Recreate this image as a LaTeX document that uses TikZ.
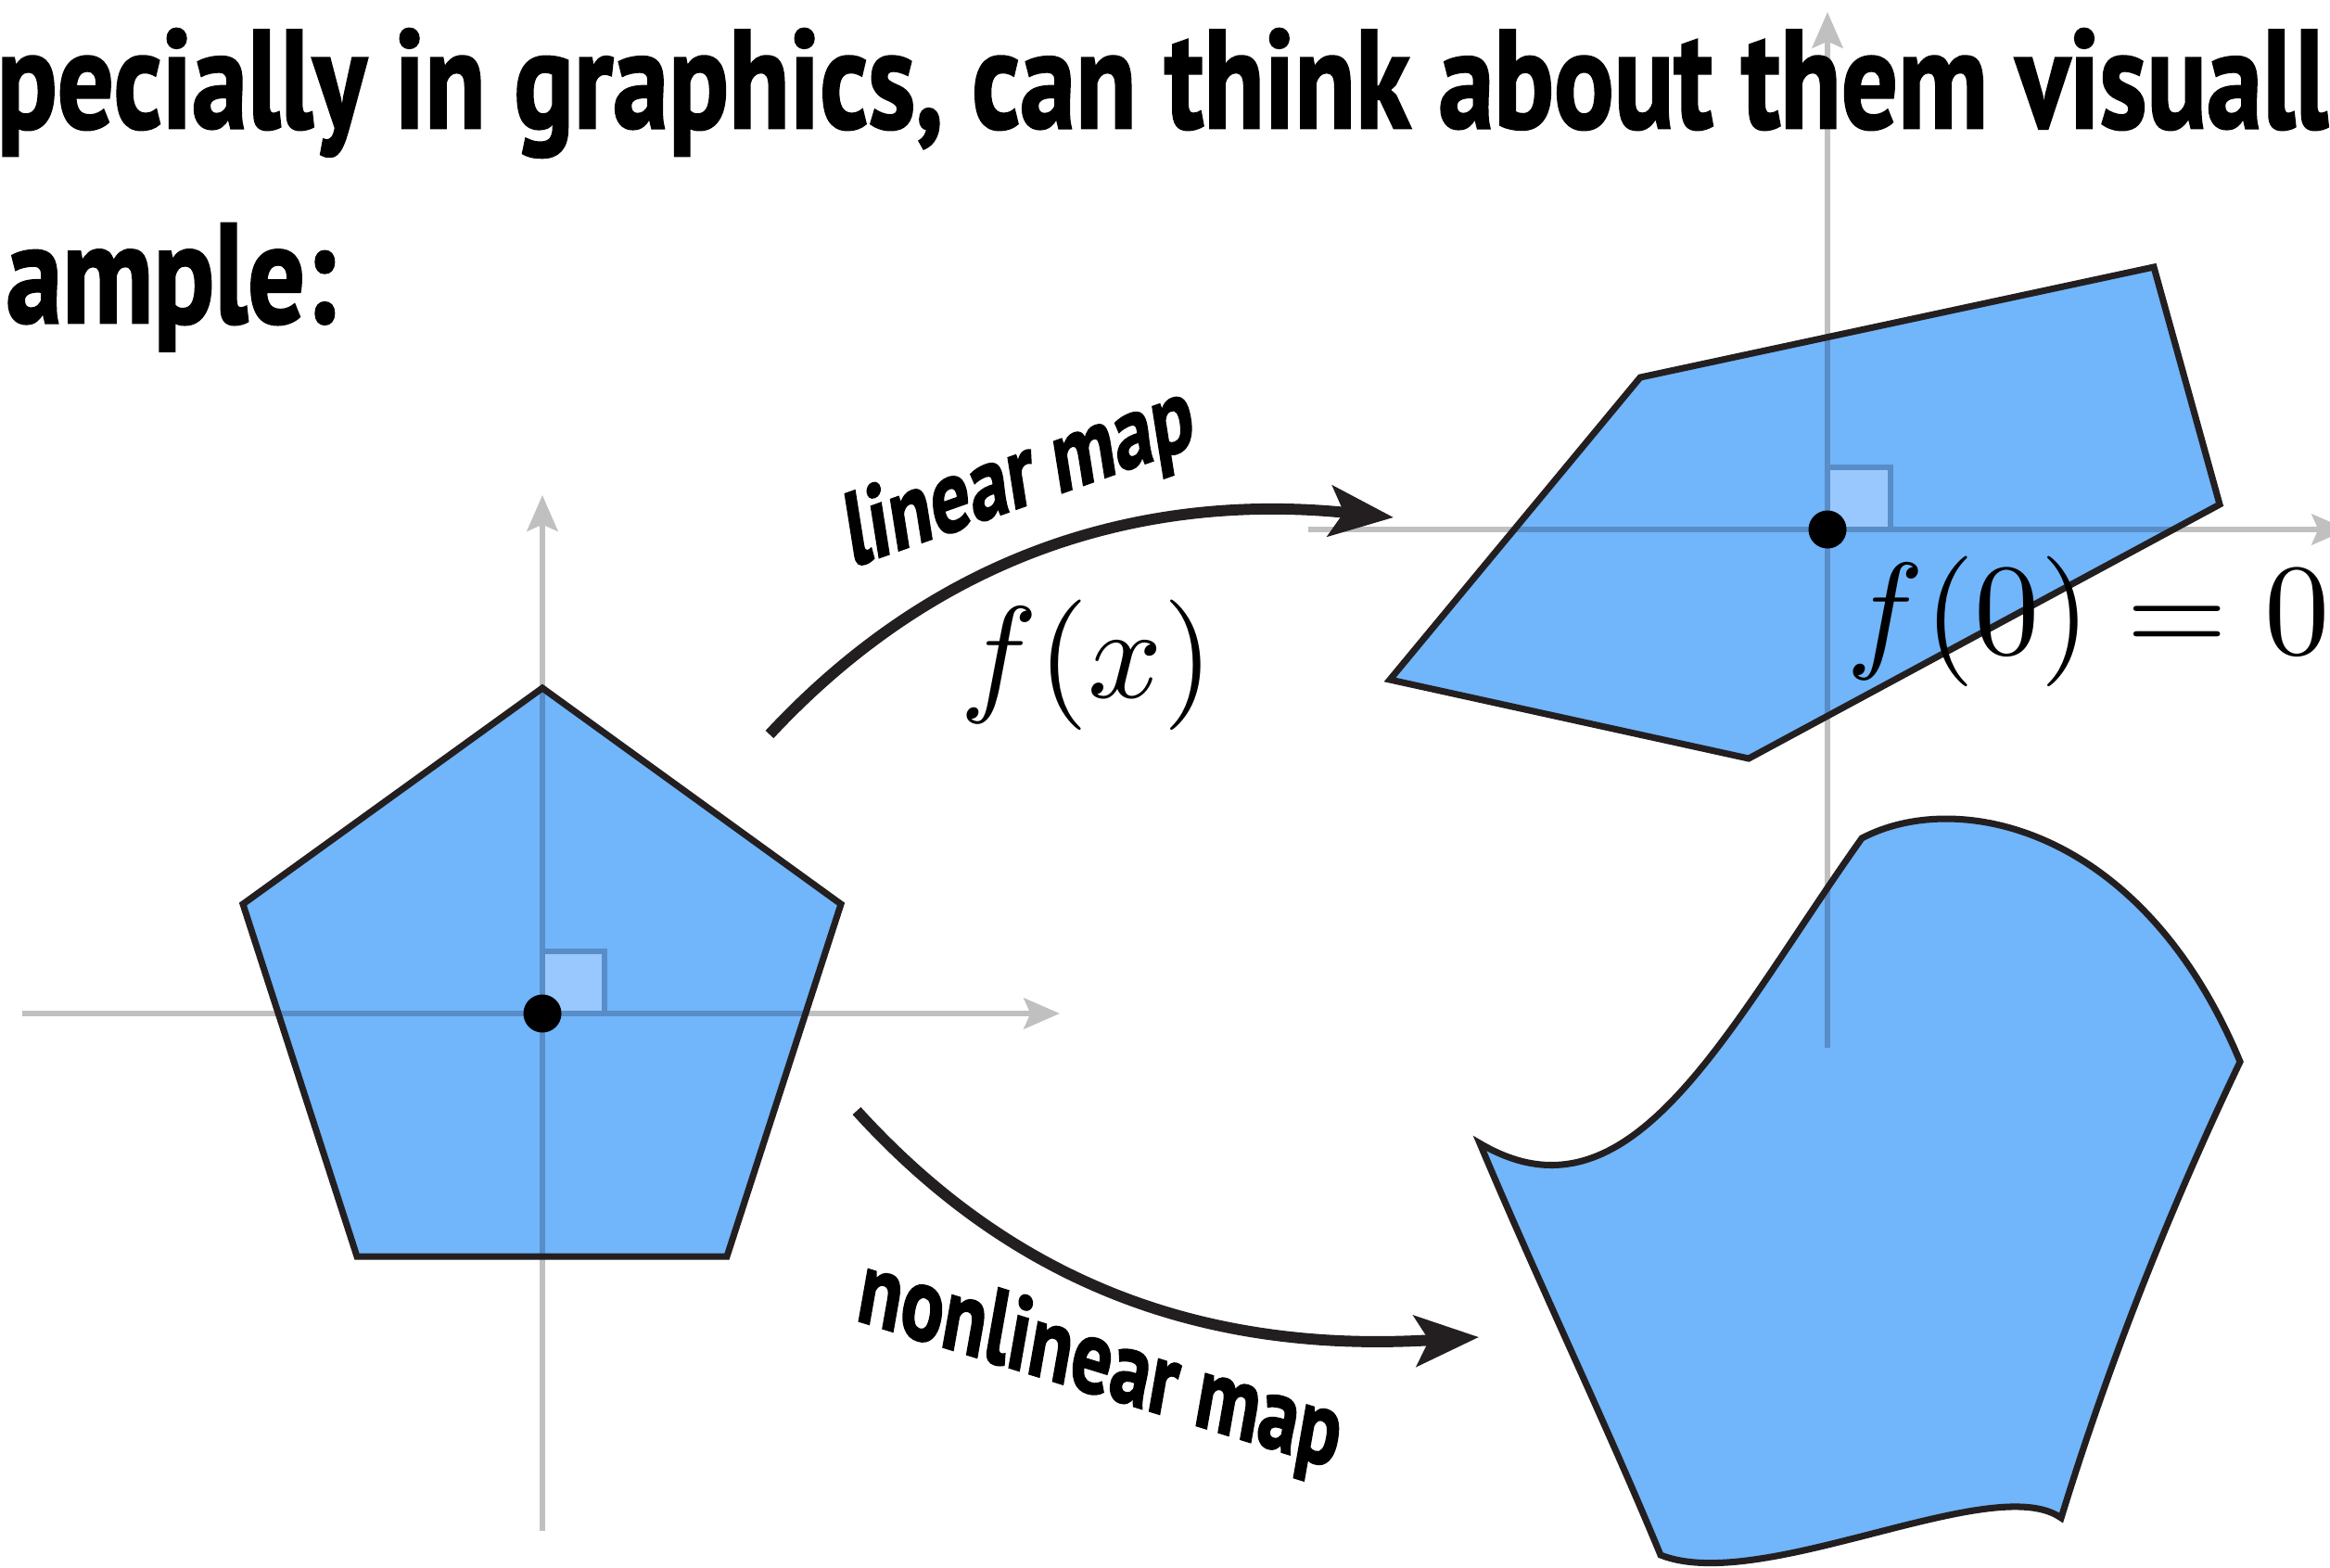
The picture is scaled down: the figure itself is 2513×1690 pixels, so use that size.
\documentclass[tikz,border=0pt]{standalone}
\usepackage{fontspec}
\newfontfamily\titlefont{PT Sans}[BoldFeatures={FakeBold=1.8}]
\usetikzlibrary{arrows.meta}
\definecolor{polyblue}{RGB}{113,181,250}
\definecolor{axisgray}{RGB}{192,192,192}
\definecolor{axisdark}{RGB}{88,141,200}
\definecolor{sqfill}{RGB}{152,200,253}
\definecolor{inkdark}{RGB}{35,31,32}
\begin{document}
\begin{tikzpicture}[x=0.01cm,y=-0.01cm,
  axis/.style={draw=axisgray, line width=1.8pt, -{Stealth[length=11pt,width=9.4pt,inset=2pt]}},
  axisin/.style={draw=axisdark, line width=1.8pt},
  blob/.style={fill=polyblue},
  outline/.style={draw=inkdark, line width=2pt, line join=miter},
  sqbox/.style={fill=sqfill, draw=axisdark, line width=1.5pt},
  mapping/.style={draw=inkdark, line width=3.4pt, -{Stealth[length=19.5pt,width=15.5pt,inset=4.2pt]}},
  dotnode/.style={circle, fill=black, inner sep=0pt, minimum size=0.41cm},
  lbl/.style={inner sep=0pt, anchor=base west},
  mathlbl/.style={inner sep=0pt, anchor=base}]
\useasboundingbox (0,0) rectangle (2513,1690);

% ---------- coordinates ----------
\coordinate (Lo) at (585,1093);
\coordinate (LxA) at (24,1093);  \coordinate (LxB) at (1143,1093);
\coordinate (LyA) at (585,1651); \coordinate (LyB) at (585,534);
\coordinate (P1) at (585,742); \coordinate (P2) at (907,975);
\coordinate (P3) at (784,1355); \coordinate (P4) at (385,1355);
\coordinate (P5) at (262,975);

\coordinate (Ro) at (1971,571);
\coordinate (RxA) at (1411,571);  \coordinate (RxB) at (2532,571);
\coordinate (RyA) at (1971,1130); \coordinate (RyB) at (1971,13);
\coordinate (Q1) at (1769,407); \coordinate (Q2) at (2323,288);
\coordinate (Q3) at (2394,544); \coordinate (Q4) at (1886,818);
\coordinate (Q5) at (1499,733);

\coordinate (NA) at (2008,904); \coordinate (NB) at (2416,1145);
\coordinate (NC) at (2223,1637); \coordinate (ND) at (1791,1677);
\coordinate (NE) at (1596,1233);

% ---------- gray axes ----------
\draw[axis] (LxA) -- (LxB);
\draw[axis] (LyA) -- (LyB);
\draw[axis] (RxA) -- (RxB);
\draw[axis] (RyA) -- (RyB);

% ---------- left pentagon ----------
\fill[blob] (P1) -- (P2) -- (P3) -- (P4) -- (P5) -- cycle;
\begin{scope}
  \clip (P1) -- (P2) -- (P3) -- (P4) -- (P5) -- cycle;
  \draw[axisin] (LxA) -- (LxB);
  \draw[axisin] (LyA) -- (LyB);
\end{scope}
\draw[sqbox] (Lo) rectangle ++(67,-67);
\draw[outline] (P1) -- (P2) -- (P3) -- (P4) -- (P5) -- cycle;
\node[dotnode] (ldot) at (Lo) {};

% ---------- linear image ----------
\fill[blob] (Q1) -- (Q2) -- (Q3) -- (Q4) -- (Q5) -- cycle;
\begin{scope}
  \clip (Q1) -- (Q2) -- (Q3) -- (Q4) -- (Q5) -- cycle;
  \draw[axisin] (RxA) -- (RxB);
  \draw[axisin] (RyA) -- (RyB);
\end{scope}
\draw[sqbox] (Ro) rectangle ++(68,-67);
\draw[outline] (Q1) -- (Q2) -- (Q3) -- (Q4) -- (Q5) -- cycle;
\node[dotnode] (rdot) at (Ro) {};

% ---------- nonlinear image ----------
\fill[blob] (NA) .. controls (2110,850) and (2310,890) .. (NB)
  .. controls (2340,1304) and (2275,1468) .. (NC)
  .. controls (2150,1585) and (1900,1720) .. (ND)
  .. controls (1730,1530) and (1660,1385) .. (NE)
  .. controls (1760,1330) and (1863,1108) .. (NA) -- cycle;
\begin{scope}
  \clip (NA) .. controls (2110,850) and (2310,890) .. (NB)
  .. controls (2340,1304) and (2275,1468) .. (NC)
  .. controls (2150,1585) and (1900,1720) .. (ND)
  .. controls (1730,1530) and (1660,1385) .. (NE)
  .. controls (1760,1330) and (1863,1108) .. (NA) -- cycle;
  \draw[axisin] (RyA) -- (RyB);
\end{scope}
\draw[outline] (NA) .. controls (2110,850) and (2310,890) .. (NB)
  .. controls (2340,1304) and (2275,1468) .. (NC)
  .. controls (2150,1585) and (1900,1720) .. (ND)
  .. controls (1730,1530) and (1660,1385) .. (NE)
  .. controls (1760,1330) and (1863,1108) .. (NA) -- cycle;

% ---------- mapping arrows ----------
\coordinate (la0) at (830,792);  \coordinate (la1) at (1503,558);
\coordinate (na0) at (924,1198); \coordinate (na1) at (1595,1442);
\draw[mapping] (la0) .. controls (1020,588) and (1245,532) .. (la1);
\draw[mapping] (na0) .. controls (1094,1385) and (1300,1460) .. (na1);

% ---------- labels ----------
\node[lbl, rotate=19.5, xslant=0.185] (linlab) at (918,612)
  {\resizebox{3.95cm}{0.78cm}{\titlefont\bfseries linear map}};
\node[lbl, rotate=-17.2, xslant=-0.126] (nonlinlab) at (921,1423)
  {\resizebox{5.42cm}{0.80cm}{\titlefont\bfseries nonlinear map}};
\node[mathlbl] (fx) at (1172,752) {\scalebox{4}{$f(x)$}};
\node[mathlbl] (fzero) at (2252,705) {\scalebox{4}{$f(0)=0$}};

% ---------- title ----------
\node[lbl] (title1) at (-4,138)
  {\resizebox{25.12cm}{1.07cm}{\titlefont\bfseries pecially in graphics, can think about them visuall}};
\node[lbl] (title2) at (6,348)
  {\resizebox{3.55cm}{1.07cm}{\titlefont\bfseries ample:}};
\end{tikzpicture}
\end{document}
